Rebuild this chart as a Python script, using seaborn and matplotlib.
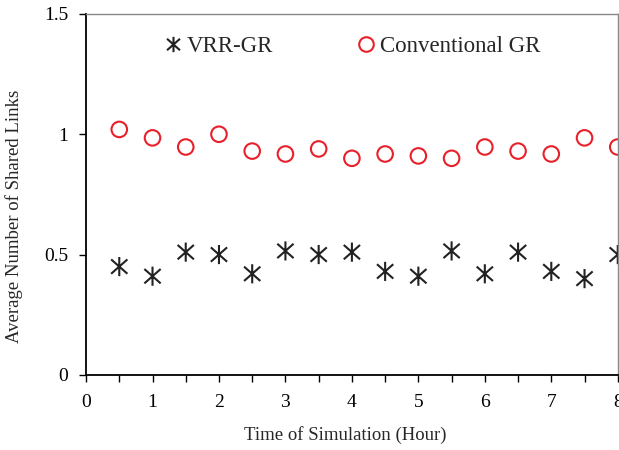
import numpy as np
import pandas as pd
import seaborn as sns
import matplotlib.pyplot as plt
from matplotlib.ticker import FormatStrFormatter, MultipleLocator
from matplotlib.lines import Line2D
from matplotlib.path import Path

# simulation time (hours)
hours = [0.5, 1, 1.5, 2, 2.5, 3, 3.5, 4, 4.5, 5, 5.5, 6, 6.5, 7, 7.5, 8]
# average number of shared links
vrr_gr = [0.45, 0.41, 0.51, 0.50, 0.42, 0.515, 0.50, 0.51,
          0.43, 0.41, 0.515, 0.42, 0.51, 0.43, 0.40, 0.50]
conv_gr = [1.02, 0.985, 0.947, 1.0, 0.93, 0.918, 0.939, 0.90,
           0.918, 0.91, 0.90, 0.947, 0.93, 0.918, 0.985, 0.947]

df_vrr = pd.DataFrame({"hour": hours, "links": vrr_gr})
df_conv = pd.DataFrame({"hour": hours, "links": conv_gr})

sns.set_style("white")
plt.rcParams['font.family'] = ['Liberation Serif', 'DejaVu Serif']

fig = plt.figure(figsize=(6.19, 4.5), dpi=100)
ax = fig.add_axes([0.139, 0.167, 0.859, 0.802])

red = "#e8202a"
dark = "#222222"
# asterisk: vertical bar plus an X
star = Path([(0, -1), (0, 1), (-0.85, -0.75), (0.85, 0.75), (-0.85, 0.75), (0.85, -0.75)],
            [Path.MOVETO, Path.LINETO, Path.MOVETO, Path.LINETO, Path.MOVETO, Path.LINETO])
sns.scatterplot(data=df_vrr, x="hour", y="links", marker=star, s=190,
                facecolor="none", edgecolor=dark, linewidth=1.5, ax=ax, legend=False)
sns.scatterplot(data=df_conv, x="hour", y="links", marker="o", s=125,
                facecolor="none", edgecolor=red, linewidth=1.5, ax=ax, legend=False)

ax.set_xlim(0, 8)
ax.set_ylim(0, 1.5)
ax.xaxis.set_major_locator(MultipleLocator(1))
ax.xaxis.set_minor_locator(MultipleLocator(0.5))
ax.yaxis.set_major_locator(MultipleLocator(0.5))
ax.yaxis.set_major_formatter(FormatStrFormatter('%g'))
ax.tick_params(axis='both', which='both', direction='out', length=5, width=1,
               colors='black', labelsize=14)
ax.tick_params(axis='x', which='minor', length=5)
ax.tick_params(axis='x', which='major', pad=9)
ax.tick_params(axis='y', which='major', pad=8)
ax.xaxis.set_ticks_position('bottom')
ax.yaxis.set_ticks_position('left')

for side in ['left', 'bottom']:
    ax.spines[side].set_color('black')
    ax.spines[side].set_linewidth(1.3)
for side in ['top', 'right']:
    ax.spines[side].set_color('#888888')
    ax.spines[side].set_linewidth(1.0)

ax.set_xlabel("Time of Simulation (Hour)", fontsize=13.5)
ax.set_ylabel("Average Number of Shared Links", fontsize=13.5)
ax.xaxis.set_label_coords(0.487, -0.142)
ax.yaxis.set_label_coords(-0.118, 0.44)

handles = [
    Line2D([], [], linestyle='', marker=star, markersize=11, color=dark,
           markeredgewidth=1.5, label="VRR-GR"),
    Line2D([], [], linestyle='', marker='o', markersize=10.5, markerfacecolor='none',
           markeredgecolor=red, markeredgewidth=1.5, label="Conventional GR"),
]
ax.legend(handles=handles, ncol=2, frameon=False, loc='center left',
          bbox_to_anchor=(0.132, 0.909), fontsize=16.5, handlelength=0.7,
          handletextpad=0.25, columnspacing=3.7, borderaxespad=0)

fig.savefig("out.png", dpi=100)
